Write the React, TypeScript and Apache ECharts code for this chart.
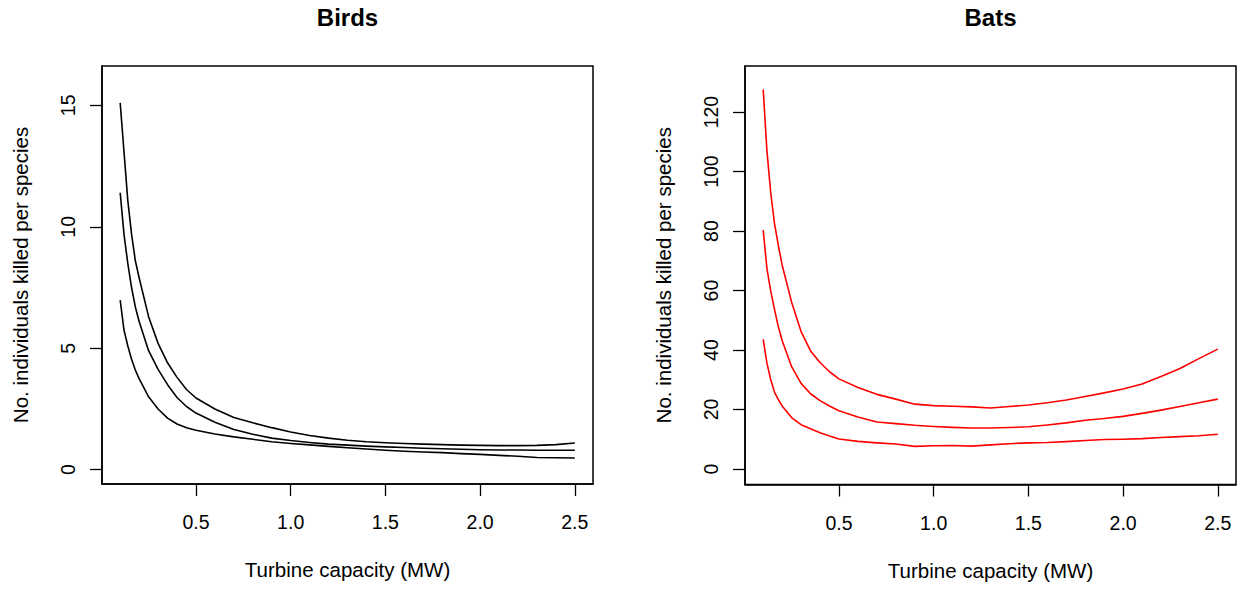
import React, { useEffect, useRef } from "react";
import * as echarts from "echarts";

const capacity = [0.1, 0.12, 0.14, 0.16, 0.18, 0.2, 0.25, 0.3, 0.35, 0.4, 0.45, 0.5, 0.6, 0.7, 0.8, 0.9, 1.0, 1.1, 1.2, 1.3, 1.4, 1.5, 1.6, 1.7, 1.8, 1.9, 2.0, 2.1, 2.2, 2.3, 2.4, 2.5];

const birdsUpper = [15.1, 13.1, 11.1, 9.7, 8.6, 7.9, 6.3, 5.2, 4.4, 3.8, 3.3, 2.95, 2.5, 2.15, 1.93, 1.73, 1.55, 1.41, 1.3, 1.21, 1.15, 1.11, 1.08, 1.05, 1.03, 1.01, 1.0, 0.99, 0.99, 1.0, 1.03, 1.1];
const birdsMid = [11.4, 9.7, 8.5, 7.5, 6.7, 6.1, 4.9, 4.13, 3.5, 2.97, 2.6, 2.33, 1.95, 1.65, 1.46, 1.3, 1.2, 1.12, 1.05, 1.01, 0.97, 0.94, 0.91, 0.88, 0.86, 0.84, 0.82, 0.81, 0.81, 0.8, 0.8, 0.8];
const birdsLower = [6.98, 5.75, 5.1, 4.55, 4.1, 3.75, 3.0, 2.5, 2.12, 1.88, 1.73, 1.62, 1.47, 1.35, 1.25, 1.15, 1.08, 1.02, 0.96, 0.9, 0.85, 0.8, 0.76, 0.73, 0.7, 0.66, 0.63, 0.59, 0.55, 0.5, 0.49, 0.48];

const batsUpper = [127.6, 106.8, 92.8, 82.4, 75.2, 68.6, 56.1, 46.2, 39.7, 35.8, 32.7, 30.3, 27.4, 25.1, 23.5, 21.8, 21.3, 21.1, 20.9, 20.5, 21.0, 21.5, 22.3, 23.2, 24.4, 25.6, 26.9, 28.6, 31.1, 33.8, 37.1, 40.3];
const batsMid = [80.3, 67.3, 59.8, 53.6, 47.8, 43.2, 34.4, 28.8, 25.3, 23.0, 21.2, 19.6, 17.5, 15.8, 15.25, 14.7, 14.3, 14.0, 13.8, 13.8, 13.95, 14.2, 14.8, 15.5, 16.4, 17.0, 17.7, 18.7, 19.8, 21.0, 22.3, 23.5];
const batsLower = [43.6, 35.5, 30.0, 25.8, 23.3, 21.2, 17.3, 14.9, 13.5, 12.2, 11.1, 10.1, 9.3, 8.8, 8.4, 7.6, 7.8, 7.9, 7.7, 8.1, 8.5, 8.8, 8.9, 9.2, 9.6, 9.9, 10.0, 10.2, 10.6, 10.9, 11.2, 11.7];

const xTicks = [0.5, 1.0, 1.5, 2.0, 2.5];
const birdsYTicks = [0, 5, 10, 15];
const batsYTicks = [0, 20, 40, 60, 80, 100, 120];

const panelTitles = ["Birds", "Bats"];
const xTitle = "Turbine capacity (MW)";
const yTitle = "No. individuals killed per species";

const FONT = "'Liberation Sans', Arial, sans-serif";

function pairs(ys: number[]) {
  return capacity.map((x, i) => [x, ys[i]]);
}

export default function App() {
  const ref = useRef<HTMLDivElement>(null);
  useEffect(() => {
    if (!ref.current) return;
    const chart = echarts.init(ref.current, undefined, { renderer: "svg" });
    const grids = [
      { left: 102, top: 66, width: 491, height: 418 },
      { left: 745, top: 66, width: 491, height: 418.5 },
    ];
    const mkX = (gi: number) => ({
      type: "value",
      gridIndex: gi,
      min: 0.004,
      max: 2.596,
      splitLine: { show: false },
      axisLine: { show: true, onZero: false, lineStyle: { color: "#000", width: 1.5 } },
      axisTick: { show: true, inside: false, length: 12, customValues: xTicks, lineStyle: { color: "#000", width: 1.3 } },
      axisLabel: {
        show: true,
        customValues: xTicks,
        margin: 28,
        color: "#000",
        fontSize: 19.5,
        fontFamily: FONT,
        formatter: (v: number) => v.toFixed(1),
      },
      name: xTitle,
      nameLocation: "middle",
      nameGap: 75,
      nameTextStyle: { color: "#000", fontSize: 20.5, fontFamily: FONT },
    });
    const mkY = (gi: number, min: number, max: number, ticks: number[]) => ({
      type: "value",
      gridIndex: gi,
      min,
      max,
      splitLine: { show: false },
      axisLine: { show: true, onZero: false, lineStyle: { color: "#000", width: 1.5 } },
      axisTick: { show: true, inside: false, length: 12, customValues: ticks, lineStyle: { color: "#000", width: 1.3 } },
      axisLabel: {
        show: true,
        customValues: ticks,
        rotate: 90,
        margin: 24,
        color: "#000",
        fontSize: 19.5,
        fontFamily: FONT,
      },
      name: yTitle,
      nameLocation: "middle",
      nameRotate: 90,
      nameGap: 71,
      nameTextStyle: { color: "#000", fontSize: 20.5, fontFamily: FONT },
    });
    const line = (ys: number[], color: string, xi: number) => ({
      type: "line",
      xAxisIndex: xi,
      yAxisIndex: xi,
      data: pairs(ys),
      showSymbol: false,
      symbol: "none",
      smooth: false,
      lineStyle: { color, width: 1.6, join: "round" },
      silent: true,
    });
    chart.setOption({
      animation: false,
      backgroundColor: "#fff",
      grid: grids.map((g) => ({ ...g, show: true, borderColor: "#000", borderWidth: 1.5, backgroundColor: "transparent", containLabel: false })),
      xAxis: [mkX(0), mkX(1)],
      yAxis: [mkY(0, -0.59, 16.62, birdsYTicks), mkY(1, -5.21, 135.5, batsYTicks)],
      graphic: [
        {
          type: "text",
          x: 347.5,
          y: 17,
          style: { text: panelTitles[0], align: "center", verticalAlign: "middle", fontSize: 24, fontWeight: "bold", fontFamily: FONT, fill: "#000" },
        },
        {
          type: "text",
          x: 990.5,
          y: 17,
          style: { text: panelTitles[1], align: "center", verticalAlign: "middle", fontSize: 24, fontWeight: "bold", fontFamily: FONT, fill: "#000" },
        },
      ],
      series: [
        line(birdsUpper, "#000", 0),
        line(birdsMid, "#000", 0),
        line(birdsLower, "#000", 0),
        line(batsUpper, "#ff0000", 1),
        line(batsMid, "#ff0000", 1),
        line(batsLower, "#ff0000", 1),
      ],
    });
    return () => chart.dispose();
  }, []);
  return <div ref={ref} style={{ position: "absolute", left: 0, top: 0, width: 1245, height: 592 }} />;
}
